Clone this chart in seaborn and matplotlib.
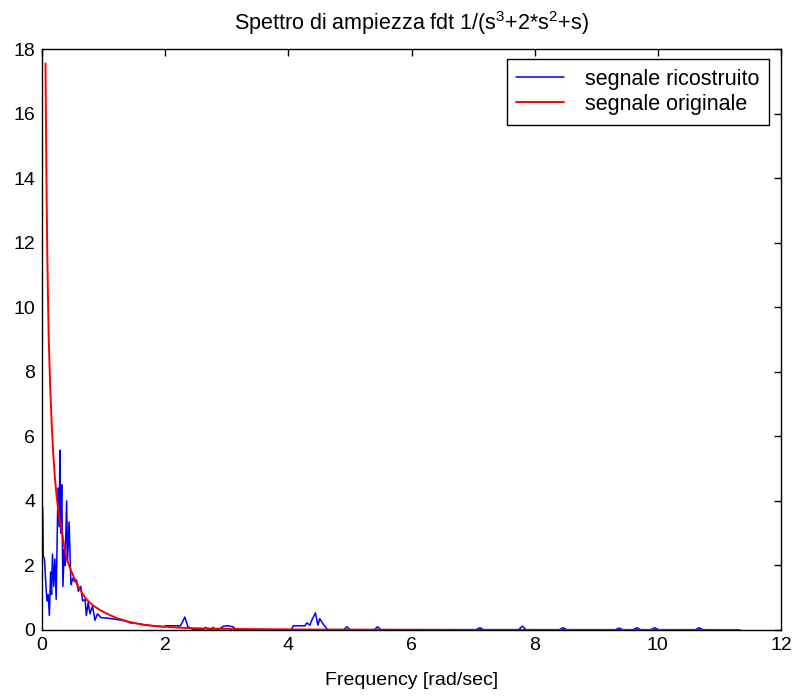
import numpy as np
import pandas as pd
import seaborn as sns
import matplotlib
matplotlib.use("Agg")
import matplotlib.pyplot as plt

# frequency axis values [rad/sec]
orig_w = [0.057, 0.062, 0.067, 0.075, 0.085, 0.097, 0.11, 0.13, 0.157, 0.184,
          0.21, 0.24, 0.28, 0.32, 0.36, 0.40, 0.48, 0.56, 0.64, 0.73, 0.83,
          0.94, 1.06, 1.21, 1.4, 1.64, 1.85, 2.0, 2.25, 2.56, 3.0, 3.5, 4.2,
          5.0, 6.5, 8.0, 9.5, 11.33]
orig_mag = [17.55, 16.2, 15.2, 13.4, 11.8, 10.3, 9.0, 7.7, 6.4, 5.4,
            4.7, 4.1, 3.5, 3.1, 2.6, 2.2, 1.8, 1.45, 1.18, 0.93, 0.76,
            0.62, 0.5, 0.37, 0.26, 0.16, 0.12, 0.1, 0.07, 0.05, 0.035, 0.025, 0.015,
            0.01, 0.005, 0.003, 0.002, 0.001]

rec_w = [0.01, 0.015, 0.02, 0.04, 0.06, 0.08, 0.1, 0.12, 0.14, 0.155,
         0.17, 0.19, 0.21, 0.23, 0.26, 0.28, 0.29, 0.305, 0.32, 0.34,
         0.36, 0.375, 0.40, 0.415, 0.44, 0.47, 0.50, 0.53, 0.56, 0.59,
         0.63, 0.66, 0.70, 0.72, 0.75, 0.78, 0.82, 0.86, 0.90, 0.96,
         1.06, 1.2, 1.35, 1.43, 1.55, 1.75, 1.98, 2.0, 2.25, 2.32,
         2.37, 2.45, 2.62, 2.66, 2.7, 2.75, 2.78, 2.82, 2.88, 2.95,
         3.02, 3.1, 3.15, 3.5, 4.05, 4.08, 4.27, 4.3, 4.35, 4.38,
         4.44, 4.48, 4.51, 4.56, 4.6, 4.64, 4.9, 4.95, 5.0, 5.4,
         5.45, 5.5, 7.05, 7.11, 7.17, 7.74, 7.8, 7.86, 8.4, 8.46,
         8.52, 9.31, 9.37, 9.43, 9.6, 9.66, 9.72, 9.89, 9.95, 10.01,
         10.61, 10.67, 10.73, 11.33]
rec_mag = [3.8, 3.3, 2.3, 2.2, 1.5, 0.9, 1.1, 0.45, 1.8, 1.1,
           2.35, 1.35, 2.2, 0.95, 4.4, 3.2, 5.57, 3.0, 4.5, 1.35,
           2.5, 2.0, 4.0, 2.1, 3.35, 1.4, 1.6, 1.5, 1.55, 1.2,
           1.35, 0.9, 0.95, 0.45, 0.85, 0.5, 0.75, 0.3, 0.5, 0.38,
           0.37, 0.33, 0.28, 0.22, 0.2, 0.14, 0.1, 0.13, 0.13, 0.4,
           0.1, 0.02, 0.02, 0.08, 0.01, 0.01, 0.08, 0.01, 0.03, 0.12,
           0.13, 0.1, 0.01, 0.01, 0.01, 0.13, 0.13, 0.22, 0.15, 0.3,
           0.53, 0.15, 0.35, 0.2, 0.1, 0.01, 0.01, 0.1, 0.01, 0.01,
           0.1, 0.01, 0.01, 0.07, 0.01, 0.01, 0.12, 0.01, 0.01, 0.07,
           0.01, 0.01, 0.06, 0.01, 0.01, 0.07, 0.01, 0.01, 0.07, 0.01,
           0.01, 0.07, 0.01, 0.005]

rec = pd.DataFrame({'w': rec_w, 'mag': rec_mag})
orig = pd.DataFrame({'w': orig_w, 'mag': orig_mag})

sns.set_style('white')
plt.rcParams['font.family'] = ['Liberation Sans', 'DejaVu Sans']
plt.rcParams['mathtext.fontset'] = 'custom'
plt.rcParams['mathtext.rm'] = 'Liberation Sans'
plt.rcParams['text.color'] = 'black'
plt.rcParams['axes.labelcolor'] = 'black'

fig = plt.figure(figsize=(7.96, 6.97), dpi=100)
ax = fig.add_axes([42/796, 67/697, 739/796, 581/697])

sns.lineplot(data=rec, x='w', y='mag', color='#0000ff', lw=1.1,
             label='segnale ricostruito', ax=ax)
sns.lineplot(data=orig, x='w', y='mag', color='#ff0000', lw=1.4,
             label='segnale originale', ax=ax)

ax.set_xlim(0, 12)
ax.set_ylim(0, 18)
ax.set_xticks(np.arange(0, 13, 2))
ax.set_yticks(np.arange(0, 19, 2))
ax.tick_params(direction='in', length=5, width=1, top=True, right=True,
               labelsize=14, colors='black', pad=5)
for s in ax.spines.values():
    s.set_color('black')
    s.set_linewidth(1)

ax.set_xlabel('Frequency [rad/sec]', fontsize=14, labelpad=13, color='black')
ax.set_ylabel('')
ax.set_title(r'Spettro di ampiezza fdt 1/(s$^3$+2*s$^2$+s)', fontsize=15.5,
             pad=14, color='black')

leg = ax.legend(loc='upper right', bbox_to_anchor=(0.984, 0.983),
                borderaxespad=0, fancybox=False, edgecolor='black',
                fontsize=15.5, handlelength=2.2, handletextpad=1.0,
                labelspacing=0.2, borderpad=0.45, framealpha=1)
leg.get_frame().set_linewidth(1)

fig.savefig('out.png', dpi=100)
